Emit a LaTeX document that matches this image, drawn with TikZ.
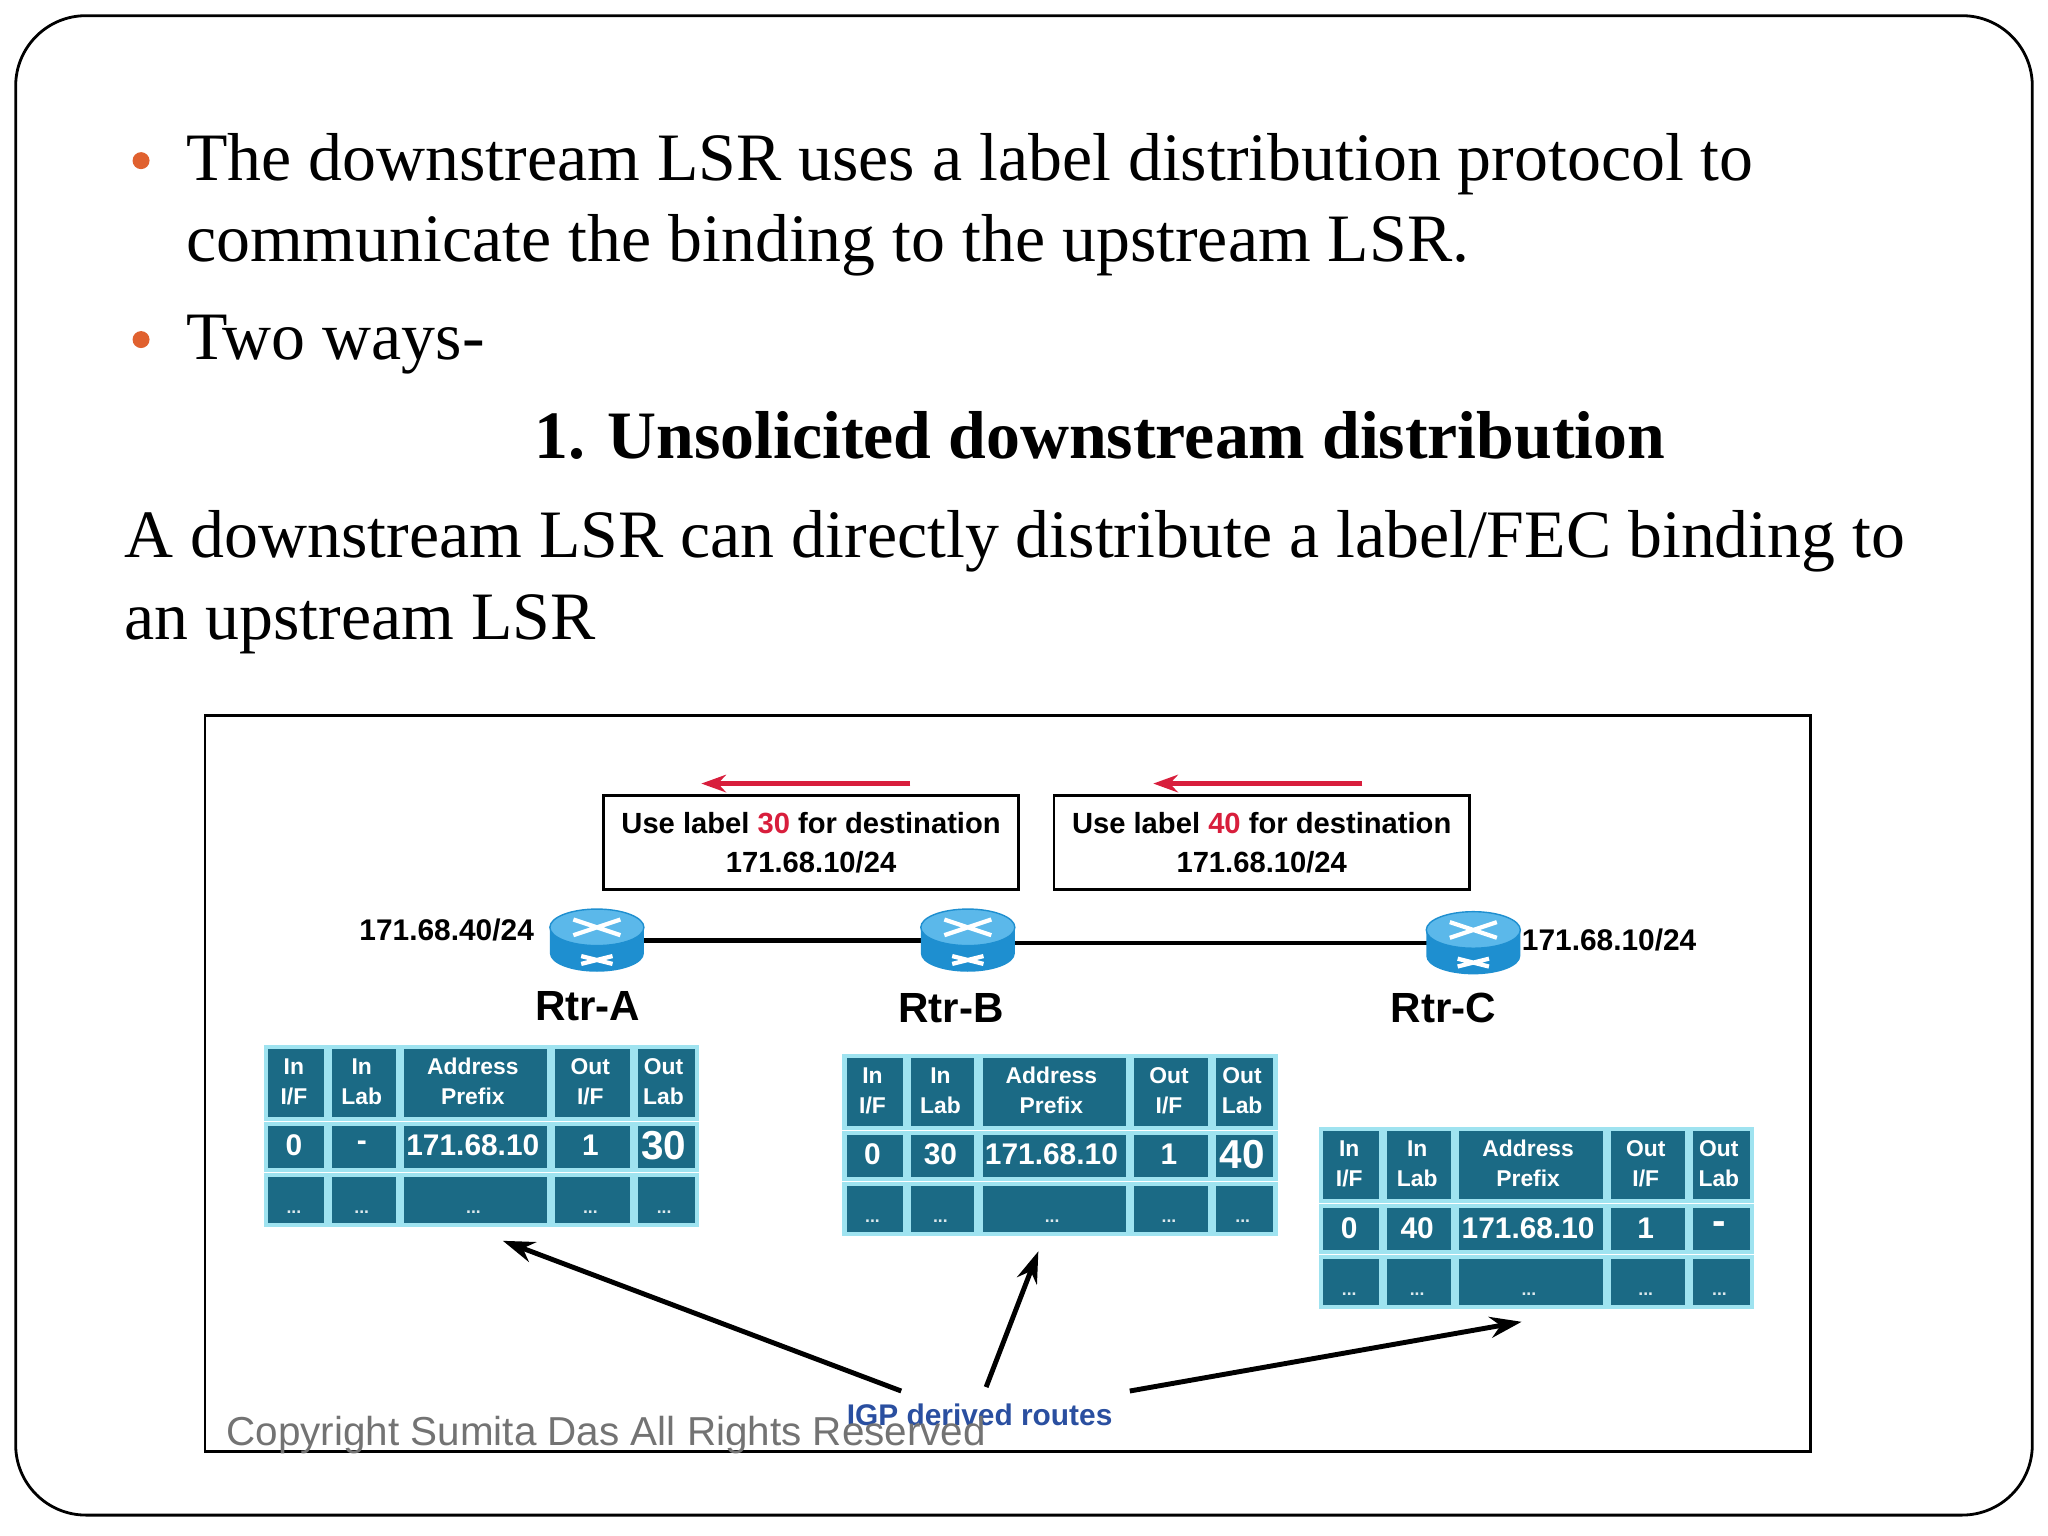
\documentclass[tikz,border=0pt]{standalone}
\usepackage{fontspec}
\setmainfont{Liberation Serif}
\setsansfont{Liberation Sans}
\usetikzlibrary{arrows.meta,shapes.geometric}
\definecolor{cell}{HTML}{1B6A85}
\definecolor{cellb}{HTML}{9FE3F0}
\definecolor{bul}{HTML}{E0612F}
\definecolor{rtr}{HTML}{1E8FD0}
\definecolor{rtrt}{HTML}{5BB8EA}
\definecolor{lblred}{HTML}{D81E3C}
\definecolor{igp}{HTML}{2A4FA0}
\tikzset{
 cellbox/.style={fill=cell,draw=cellb,line width=1.2pt,text=white,font=\sffamily\bfseries,align=center,inner sep=0pt},
 msgbox/.style={draw=black,line width=0.8pt,minimum width=318*0.013061cm,minimum height=72*0.013061cm,align=center,font=\sffamily\bfseries\fontsize{8.3}{11}\selectfont},
 rlabel/.style={font=\sffamily\bfseries\fontsize{12}{14}\selectfont},
 iplabel/.style={font=\sffamily\bfseries\fontsize{8.5}{10}\selectfont},
 body/.style={font=\fontsize{19.3}{22}\selectfont,anchor=base west,inner sep=0pt},
 link/.style={line width=1.3pt},
 hdr/.style={font=\sffamily\bfseries\fontsize{6.5}{8.5}\selectfont,text=white,align=center},
 val/.style={font=\sffamily\bfseries\fontsize{8.5}{10}\selectfont,text=white},
 igparrow/.style={line width=1.4pt,-{Stealth[length=9pt,width=6pt]}}
}
\newcommand\lsrtab[4]{% x,y,inlab,outlab
 \begin{scope}[shift={(#1,#2)}]
  \foreach \w/\o [count=\i] in {46/0,52/49,113/104,60/220,47/283} {
   \node[cellbox,minimum width=\w*0.013061cm,minimum height=55*0.013061cm,anchor=north west] at (\o,0) {};
   \node[cellbox,minimum width=\w*0.013061cm,minimum height=35*0.013061cm,anchor=north west] at (\o,59) {};
   \node[cellbox,minimum width=\w*0.013061cm,minimum height=38*0.013061cm,anchor=north west] at (\o,98) {};
   \node[font=\sffamily\bfseries\fontsize{5}{6}\selectfont,text=white!85!cell] at (\o+\w/2,128) {...};
  }
  \node[hdr] at (23,28) {In\\I/F};
  \node[hdr] at (75,28) {In\\Lab};
  \node[hdr] at (160,28) {Address\\Prefix};
  \node[hdr] at (250,28) {Out\\I/F};
  \node[hdr] at (306,28) {Out\\Lab};
  \node[val] at (23,77) {0};
  \node[val] at (75,77) {#3};
  \node[val] at (160,77) {171.68.10};
  \node[val] at (250,77) {1};
  \node[val,font=\sffamily\bfseries\fontsize{11.5}{13}\selectfont] at (306,77) {#4};
 \end{scope}}
\newcommand\router[3]{% name,x,y
 \begin{scope}[shift={(#2,#3)}]
  \fill[rtr] (-36,-8) -- (-36,12) arc[start angle=180,end angle=0,x radius=36,y radius=14] -- (36,-8) -- cycle;
  \fill[rtrt,draw=rtr] (0,-8) ellipse[x radius=36,y radius=14];
  \draw[white,line width=1.2pt] (-18,-14)--(18,-2) (-18,-2)--(18,-14) (-12,14)--(12,20) (-12,20)--(12,14);
  \coordinate (#1) at (0,2);
 \end{scope}}
\begin{document}
\begin{tikzpicture}[x=0.013061cm,y=-0.013061cm]
\useasboundingbox (0,0) rectangle (1568,1176);
\draw[line width=0.8pt,rounded corners=20pt] (12,12) rectangle (1556,1160);
% text
\fill[bul] (108,123) circle (6.5);
\node[body] (t1) at (142,138) {The downstream LSR uses a label distribution protocol to};
\node[body] (t2) at (142,200) {communicate the binding to the upstream LSR.};
\fill[bul] (108,260) circle (6.5);
\node[body] (t3) at (142,275) {Two ways-};
\node[body,anchor=base,font=\fontsize{19.3}{22}\selectfont\bfseries] (t4) at (842,351) {1. Unsolicited downstream distribution};
\node[body] (t5) at (95,427) {A downstream LSR can directly distribute a label/FEC binding to};
\node[body] (t6) at (95,490) {an upstream LSR};
% figure
\draw[line width=0.8pt] (157,548) rectangle (1386,1111);
\node[msgbox] (m1) at (621,645) {Use label \textcolor{lblred}{30} for destination\\171.68.10/24};
\node[msgbox] (m2) at (966,645) {Use label \textcolor{lblred}{40} for destination\\171.68.10/24};
\draw[lblred,line width=1.6pt,-{Stealth[length=7pt,width=5pt]}] (m1.north)++(76,-8) coordinate (a1s) -- ++(-160,0) coordinate (a1e);
\draw[lblred,line width=1.6pt,-{Stealth[length=7pt,width=5pt]}] (m2.north)++(77,-8) coordinate (a2s) -- ++(-160,0) coordinate (a2e);
\draw[link] (490,720) -- (706,720);
\draw[link] (777,722) -- (1093,722);
\router{rA}{457}{718}
\router{rB}{741}{718}
\router{rC}{1128}{720}
\node[iplabel] (ipa) at (342,712) {171.68.40/24};
\node[iplabel] (ipc) at (1232,720) {171.68.10/24};
\node[rlabel] (la) at (450,770) {Rtr-A};
\node[rlabel] (lb) at (728,772) {Rtr-B};
\node[rlabel] (lc) at (1105,772) {Rtr-C};
\lsrtab{202}{800}{-}{30}
\lsrtab{645}{807}{30}{40}
\lsrtab{1010}{863}{40}{-}
\coordinate (ta) at (385,950);
\coordinate (tb) at (795,958);
\coordinate (tc) at (1165,1012);
\node[font=\sffamily\bfseries\fontsize{8.5}{10}\selectfont,text=igp] (igp) at (750,1083) {IGP derived routes};
\draw[igparrow] (690,1065) -- (ta);
\draw[igparrow] (755,1062) -- (tb);
\draw[igparrow] (865,1065) -- (tc);
\node[font=\sffamily\fontsize{11.5}{13}\selectfont,text=black!55,anchor=west,inner sep=0pt] (cr) at (173,1099) {Copyright Sumita Das All Rights Reserved};
\end{tikzpicture}
\end{document}
